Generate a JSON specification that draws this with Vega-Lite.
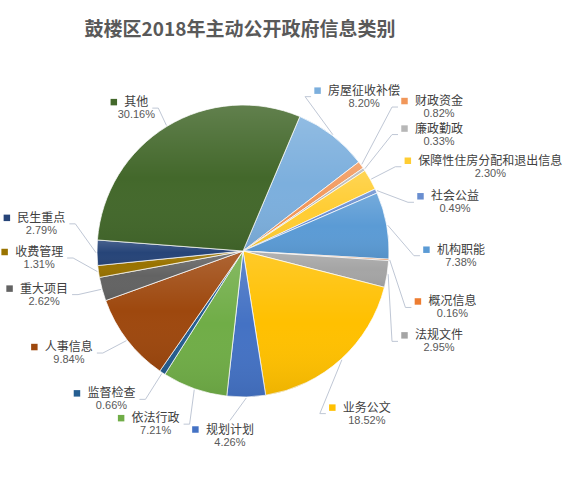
{
  "$schema": "https://vega.github.io/schema/vega-lite/v6.json",
  "width": 486,
  "height": 392,
  "autosize": {"type": "none"},
  "padding": {"left": 0, "top": 55, "right": 82, "bottom": 37},
  "background": "#ffffff",
  "config": {"view": {"stroke": null}},
  "title": {
    "text": "鼓楼区2018年主动公开政府信息类别",
    "font": "Noto Sans CJK SC",
    "fontSize": 19,
    "fontWeight": "bold",
    "color": "#595959",
    "anchor": "middle",
    "baseline": "bottom",
    "offset": 23,
    "dx": -3,
    "dy": 27
  },
  "data": {
    "values": [
      {"category": "房屋征收补偿", "share": 0.0820, "idx": 1},
      {"category": "财政资金", "share": 0.0082, "idx": 2},
      {"category": "廉政勤政", "share": 0.0033, "idx": 3},
      {"category": "保障性住房分配和退出信息", "share": 0.0230, "idx": 4},
      {"category": "社会公益", "share": 0.0049, "idx": 5},
      {"category": "机构职能", "share": 0.0738, "idx": 6},
      {"category": "概况信息", "share": 0.0016, "idx": 7},
      {"category": "法规文件", "share": 0.0295, "idx": 8},
      {"category": "业务公文", "share": 0.1852, "idx": 9},
      {"category": "规划计划", "share": 0.0426, "idx": 10},
      {"category": "依法行政", "share": 0.0721, "idx": 11},
      {"category": "监督检查", "share": 0.0066, "idx": 12},
      {"category": "人事信息", "share": 0.0984, "idx": 13},
      {"category": "重大项目", "share": 0.0262, "idx": 14},
      {"category": "收费管理", "share": 0.0131, "idx": 15},
      {"category": "民生重点", "share": 0.0279, "idx": 16},
      {"category": "其他", "share": 0.3016, "idx": 17}
    ]
  },
  "transform": [
    {"window": [{"op": "sum", "field": "share", "as": "cum"}], "sort": [{"field": "idx"}], "frame": [null, 0]},
    {"calculate": "max(datum.share, 0.04)", "as": "w"},
    {"window": [{"op": "sum", "field": "w", "as": "cumW"}], "sort": [{"field": "idx"}], "frame": [null, 0]},
    {"joinaggregate": [{"op": "sum", "field": "w", "as": "totW"}]},
    {"calculate": "0.40 + 2*PI*(datum.cum - datum.share/2)", "as": "mid"},
    {"calculate": "0.2007 + 2*PI*(datum.cumW - datum.w/2)/datum.totW", "as": "phi"},
    {"calculate": "sin(datum.phi)", "as": "sp"},
    {"calculate": "cos(datum.phi)", "as": "cp"},
    {"calculate": "abs(datum.cp) < 0.78 ? (datum.sp >= 0 ? max(180*datum.sp, 158) : min(180*datum.sp, -150)) : 180*datum.sp", "as": "ax"},
    {"calculate": "datum.cp >= 0 ? ((datum.sp > 0 && datum.cp < 0.85) ? 190 : 168)*datum.cp : 185*datum.cp", "as": "ay"},
    {"calculate": "abs(datum.sp) < 0.15 ? 0 : (datum.sp > 0 ? 1 : -1)", "as": "mode"},
    {"calculate": "length(datum.category)*12", "as": "nw"},
    {"calculate": "datum.mode == 0 ? datum.ax : (datum.mode > 0 ? datum.ax + 14 + datum.nw/2 : datum.ax - datum.nw/2)", "as": "cx"},
    {"calculate": "datum.cx - datum.nw/2 - 10.5", "as": "sqx"},
    {"calculate": "datum.mode == 0 ? datum.ax : (datum.mode > 0 ? datum.ax - 3 : datum.ax + 4)", "as": "xe"},
    {"calculate": "datum.mode == 0 ? (datum.cp < 0 ? datum.ay + 15 : datum.ay - 15) : datum.ay", "as": "ye"},
    {"calculate": "datum.xe - datum.mode*6", "as": "xm"},
    {"calculate": "147*sin(datum.mid)", "as": "x0"},
    {"calculate": "147*cos(datum.mid)", "as": "y0"}
  ],
  "layer": [
    {
      "mark": {"type": "arc", "outerRadius": 146, "stroke": "#ffffff", "strokeWidth": 0.75},
      "encoding": {
        "theta": {"field": "share", "type": "quantitative", "stack": true, "scale": {"range": [0.40, 6.6832]}},
        "order": {"field": "idx", "type": "quantitative"},
        "color": {
          "field": "category", "type": "nominal", "legend": null,
          "scale": {
            "domain": ["房屋征收补偿", "财政资金", "廉政勤政", "保障性住房分配和退出信息", "社会公益", "机构职能", "概况信息", "法规文件", "业务公文", "规划计划", "依法行政", "监督检查", "人事信息", "重大项目", "收费管理", "民生重点", "其他"],
            "range": ["#7CAFDD", "#F1975A", "#B7B7B7", "#FFCD33", "#698ED0", "#5B9BD5", "#ED7D31", "#A5A5A5", "#FFC000", "#4472C4", "#70AD47", "#255E91", "#9E480E", "#636363", "#997300", "#264478", "#43682B"]
          }
        }
      }
    },
    {
      "mark": {
        "type": "arc", "outerRadius": 146, "strokeWidth": 0,
        "color": {
          "gradient": "linear", "x1": 0, "y1": 0, "x2": 0, "y2": 1,
          "stops": [
            {"offset": 0, "color": "rgba(255,255,255,0.16)"},
            {"offset": 0.5, "color": "rgba(255,255,255,0)"},
            {"offset": 1, "color": "rgba(0,0,0,0.07)"}
          ]
        }
      },
      "encoding": {
        "theta": {"field": "share", "type": "quantitative", "stack": true, "scale": {"range": [0.40, 6.6832]}},
        "order": {"field": "idx", "type": "quantitative"}
      }
    },
    {
      "mark": {"type": "rule", "color": "#BFC7D5", "strokeWidth": 1},
      "encoding": {
        "x": {"field": "x0", "type": "quantitative", "scale": {"domain": [-243, 243], "nice": false, "zero": false}, "axis": null},
        "y": {"field": "y0", "type": "quantitative", "scale": {"domain": [-196, 196], "nice": false, "zero": false}, "axis": null},
        "x2": {"field": "xm"},
        "y2": {"field": "ye"}
      }
    },
    {
      "mark": {"type": "rule", "color": "#BFC7D5", "strokeWidth": 1},
      "encoding": {
        "x": {"field": "xm", "type": "quantitative", "scale": {"domain": [-243, 243], "nice": false, "zero": false}, "axis": null},
        "y": {"field": "ye", "type": "quantitative", "scale": {"domain": [-196, 196], "nice": false, "zero": false}, "axis": null},
        "x2": {"field": "xe"}
      }
    },
    {
      "mark": {"type": "point", "shape": "square", "filled": true, "size": 42, "opacity": 1, "yOffset": -6},
      "encoding": {
        "x": {"field": "sqx", "type": "quantitative", "scale": {"domain": [-243, 243], "nice": false, "zero": false}, "axis": null},
        "y": {"field": "ay", "type": "quantitative", "scale": {"domain": [-196, 196], "nice": false, "zero": false}, "axis": null},
        "color": {"field": "category", "type": "nominal", "legend": null}
      }
    },
    {
      "mark": {"type": "text", "font": "Noto Sans CJK SC", "fontSize": 12, "color": "#404040", "align": "center", "baseline": "middle", "dy": -6},
      "encoding": {
        "x": {"field": "cx", "type": "quantitative", "scale": {"domain": [-243, 243], "nice": false, "zero": false}, "axis": null},
        "y": {"field": "ay", "type": "quantitative", "scale": {"domain": [-196, 196], "nice": false, "zero": false}, "axis": null},
        "text": {"field": "category", "type": "nominal"}
      }
    },
    {
      "mark": {"type": "text", "font": "Liberation Sans", "fontSize": 11, "color": "#595959", "align": "center", "baseline": "middle", "dy": 7},
      "encoding": {
        "x": {"field": "cx", "type": "quantitative", "scale": {"domain": [-243, 243], "nice": false, "zero": false}, "axis": null},
        "y": {"field": "ay", "type": "quantitative", "scale": {"domain": [-196, 196], "nice": false, "zero": false}, "axis": null},
        "text": {"field": "share", "type": "quantitative", "format": ".2%"}
      }
    }
  ]
}
